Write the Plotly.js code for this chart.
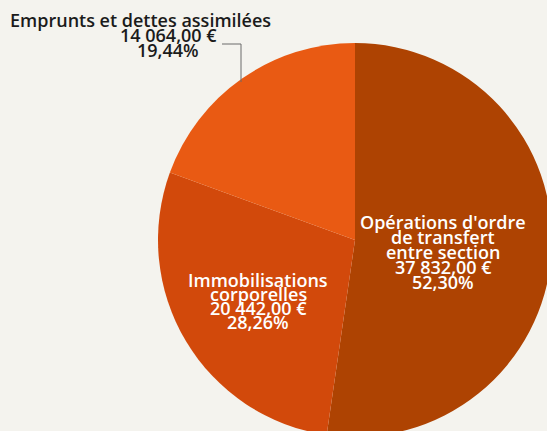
<!DOCTYPE html>
<html>
<head>
<meta charset="utf-8">
<script src="https://cdn.plot.ly/plotly-3.0.1.min.js"></script>
<style>
  html, body { margin: 0; padding: 0; overflow: hidden; background: #f4f3ee; }
</style>
</head>
<body>
<div id="chart"></div>
<script>
// data
const categories = ['Opérations d\'ordre de transfert entre section', 'Immobilisations corporelles', 'Emprunts et dettes assimilées'];
const amounts = [37832.00, 20442.00, 14064.00];
const percentLabels = ['52,30%', '28,26%', '19,44%'];
const amountLabels = ['37 832,00 €', '20 442,00 €', '14 064,00 €'];
const nameLines = [['Opérations d\'ordre', 'de transfert', 'entre section'], ['Immobilisations', 'corporelles'], ['Emprunts et dettes assimilées']];
const sliceColors = ['#ae4302', '#d2490b', '#e95a13'];

// geometry of the plot area (pixels), pie fills it
const W = 600, H = 460;
const L = 158, T = 43, SIZE = 394;
const px = x => (x - L) / SIZE;
const py = y => 1 - (y - T) / SIZE;

// where each label block goes: [centre x of first line, centre x of other lines, y of first line, line step]
const labelPos = [[443, 443, 222, 15], [258, 258, 280, 14], [140, 168, 20, 15]];
const labelColor = ['#ffffff', '#ffffff', '#1b1b1b'];

const annotations = [];
categories.forEach((c, i) => {
    const lines = nameLines[i].concat([amountLabels[i], percentLabels[i]]);
    const p = labelPos[i];
    lines.forEach((txt, k) => {
        annotations.push({
            text: txt,
            xref: 'paper', yref: 'paper',
            x: px(k === 0 ? p[0] : p[1]),
            y: py(p[2] + k * p[3]),
            xanchor: 'center', yanchor: 'middle',
            showarrow: false,
            font: { family: 'Open Sans', size: 18, weight: 600, color: labelColor[i] }
        });
    });
});

const trace = {
    type: 'pie',
    labels: categories,
    values: amounts,
    sort: false,
    direction: 'clockwise',
    rotation: 0,
    textinfo: 'none',
    hoverinfo: 'label+value+percent',
    marker: { colors: sliceColors, line: { width: 0 } },
    domain: { x: [0, 1], y: [0, 1] },
    showlegend: false
};

const layout = {
    width: W,
    height: H,
    margin: { l: L, r: W - L - SIZE, t: T, b: H - T - SIZE, pad: 0 },
    paper_bgcolor: '#f4f3ee',
    plot_bgcolor: '#f4f3ee',
    annotations: annotations,
    shapes: [{
        type: 'path',
        xref: 'paper', yref: 'paper',
        path: 'M ' + px(222) + ' ' + py(44) + ' L ' + px(241) + ' ' + py(44) + ' L ' + px(241) + ' ' + py(82),
        line: { color: '#6b6b6b', width: 1 }
    }]
};

Plotly.newPlot('chart', [trace], layout, { displayModeBar: false, staticPlot: true });
</script>
</body>
</html>
